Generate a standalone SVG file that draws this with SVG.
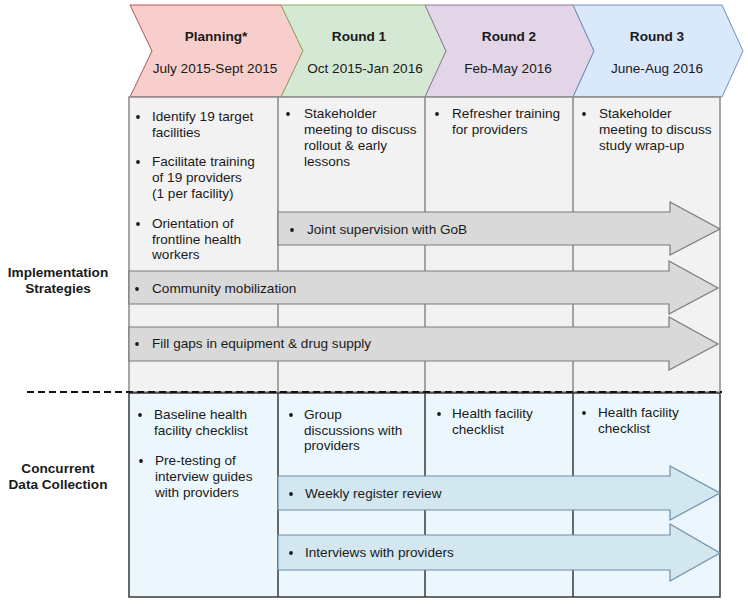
<svg xmlns="http://www.w3.org/2000/svg" width="748" height="604" viewBox="0 0 748 604">
<style>
text{font-family:"Liberation Sans",Arial,sans-serif;font-size:13.6px;fill:#1a1a1a}
.b{font-weight:bold}
.c{text-anchor:middle}
.up{fill:#f2f2f2;stroke:#8a8a8a;stroke-width:1.5}
.ul{stroke:#8a8a8a;stroke-width:1.5}
.lo{fill:#ebf7fd;stroke:#3a3a3a;stroke-width:1.5}
.ll{stroke:#3a3a3a;stroke-width:1.5}
.ga{fill:#d9d9d9;stroke:#7a7a7a;stroke-width:1.2}
.ba{fill:#d3e7f1;stroke:#6f8ea6;stroke-width:1.2}
.dot{fill:#1a1a1a}
</style>
<rect width="748" height="604" fill="#ffffff"/>
<g id="headers">
<g id="planning">
<polygon points="130,5 281,5 303,51 281,97 130,97 152,51" fill="#f8cecc" stroke="#b85450" stroke-width="1"/>
<text class="b c" x="216" y="41">Planning*</text>
<text class="c" x="215" y="73">July 2015-Sept 2015</text>
</g>
<g id="round1">
<polygon points="281,5 425,5 446,51 425,97 281,97 303,51" fill="#d5e8d4" stroke="#82b366" stroke-width="1"/>
<text class="b c" x="359" y="41">Round 1</text>
<text class="c" x="365" y="73">Oct 2015-Jan 2016</text>
</g>
<g id="round2">
<polygon points="425,5 573,5 594,51 573,97 425,97 446,51" fill="#e1d5e7" stroke="#9673a6" stroke-width="1"/>
<text class="b c" x="509" y="41">Round 2</text>
<text class="c" x="508" y="73">Feb-May 2016</text>
</g>
<g id="round3">
<polygon points="573,5 722,5 743,51 722,97 573,97 594,51" fill="#dae8fc" stroke="#6c8ebf" stroke-width="1"/>
<text class="b c" x="657" y="41">Round 3</text>
<text class="c" x="657" y="73">June-Aug 2016</text>
</g>
</g>
<g id="upper-table">
<rect class="up" x="129" y="97" width="591" height="295"/>
<line class="ul" x1="278" y1="97" x2="278" y2="392"/>
<line class="ul" x1="425" y1="97" x2="425" y2="392"/>
<line class="ul" x1="573" y1="97" x2="573" y2="392"/>
</g>
<g id="lower-table">
<rect class="lo" x="129" y="393" width="591" height="204"/>
<line class="ll" x1="278" y1="393" x2="278" y2="597"/>
<line class="ll" x1="425" y1="393" x2="425" y2="597"/>
<line class="ll" x1="573" y1="393" x2="573" y2="597"/>
</g>
<g id="labels">
<text class="b c" x="58" y="277">Implementation</text>
<text class="b c" x="58" y="293">Strategies</text>
<text class="b c" x="58" y="473">Concurrent</text>
<text class="b c" x="58" y="489">Data Collection</text>
</g>
<g id="planning-strategies">
<circle class="dot" cx="138" cy="117" r="1.9"/>
<text x="152" y="121">Identify 19 target</text>
<text x="152" y="137">facilities</text>
<circle class="dot" cx="138" cy="162" r="1.9"/>
<text x="152" y="166">Facilitate training</text>
<text x="152" y="182">of 19 providers</text>
<text x="152" y="198">(1 per facility)</text>
<circle class="dot" cx="138" cy="224" r="1.9"/>
<text x="152" y="228">Orientation of</text>
<text x="152" y="244">frontline health</text>
<text x="152" y="259">workers</text>
</g>
<g id="round1-strategies">
<circle class="dot" cx="288" cy="114" r="1.9"/>
<text x="304" y="118">Stakeholder</text>
<text x="304" y="134">meeting to discuss</text>
<text x="304" y="150">rollout &amp; early</text>
<text x="304" y="166">lessons</text>
</g>
<g id="round2-strategies">
<circle class="dot" cx="437" cy="114" r="1.9"/>
<text x="452" y="118">Refresher training</text>
<text x="452" y="134">for providers</text>
</g>
<g id="round3-strategies">
<circle class="dot" cx="584" cy="114" r="1.9"/>
<text x="599" y="118">Stakeholder</text>
<text x="599" y="134">meeting to discuss</text>
<text x="599" y="150">study wrap-up</text>
</g>
<g id="connectors">
<g id="joint-supervision">
<polygon class="ga" points="278,212 670,212 670,202 720,229 670,255 670,245 278,245"/>
<circle class="dot" cx="292" cy="230" r="1.9"/>
<text x="307" y="234">Joint supervision with GoB</text>
</g>
<g id="community-mobilization">
<polygon class="ga" points="129,271 669,271 669,261 718,288 669,314 669,304 129,304"/>
<circle class="dot" cx="137" cy="289" r="1.9"/>
<text x="152" y="293">Community mobilization</text>
</g>
<g id="fill-gaps">
<polygon class="ga" points="129,327 669,327 669,317 718,344 669,370 669,361 129,361"/>
<circle class="dot" cx="137" cy="344" r="1.9"/>
<text x="152" y="348">Fill gaps in equipment &amp; drug supply</text>
</g>
<g id="weekly-register">
<polygon class="ba" points="278,476 670,476 670,466 720,493 670,520 670,510 278,510"/>
<circle class="dot" cx="291" cy="494" r="1.9"/>
<text x="305" y="498">Weekly register review</text>
</g>
<g id="interviews">
<polygon class="ba" points="278,535 670,535 670,524 720,553 670,581 670,570 278,570"/>
<circle class="dot" cx="291" cy="553" r="1.9"/>
<text x="305" y="557">Interviews with providers</text>
</g>
</g>
<g id="planning-data">
<circle class="dot" cx="140" cy="415" r="1.9"/>
<text x="154" y="419">Baseline health</text>
<text x="154" y="435">facility checklist</text>
<circle class="dot" cx="141" cy="461" r="1.9"/>
<text x="155" y="465">Pre-testing of</text>
<text x="155" y="481">interview guides</text>
<text x="155" y="497">with providers</text>
</g>
<g id="round1-data">
<circle class="dot" cx="291" cy="415" r="1.9"/>
<text x="304" y="419">Group</text>
<text x="304" y="435">discussions with</text>
<text x="304" y="450">providers</text>
</g>
<g id="round2-data">
<circle class="dot" cx="439" cy="414" r="1.9"/>
<text x="452" y="418">Health facility</text>
<text x="452" y="434">checklist</text>
</g>
<g id="round3-data">
<circle class="dot" cx="584" cy="413" r="1.9"/>
<text x="598" y="417">Health facility</text>
<text x="598" y="433">checklist</text>
</g>
<line id="divider" x1="27" y1="392" x2="722" y2="392" stroke="#111" stroke-width="2" stroke-dasharray="7,4"/>
</svg>
